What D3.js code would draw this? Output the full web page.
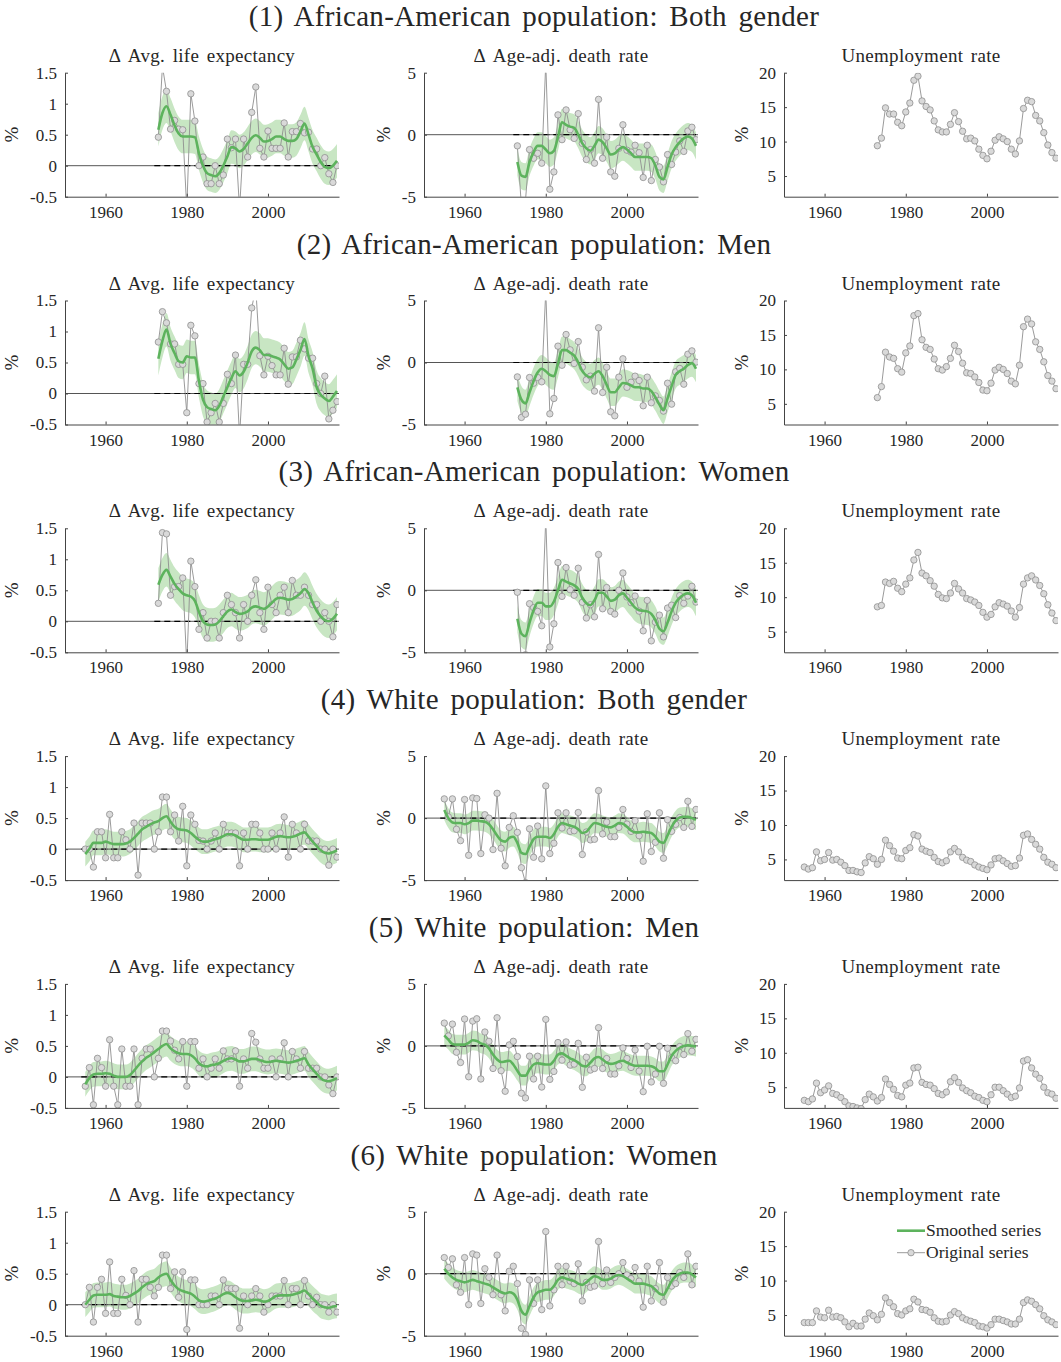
<!DOCTYPE html>
<html>
<head>
<meta charset="utf-8">
<script src="https://cdn.jsdelivr.net/npm/d3@7"></script>
<style>
  body { margin: 0; background: #fff; }
  svg { display: block; }
  text { font-family: "Liberation Serif", "DejaVu Serif", serif; fill: #262626; }
</style>
</head>
<body>
<div id="chart"></div>
<script>
// ---- data: first year of each group ----
const aaStart = 1973;
const whiteStart = 1955;

// (1) African-American, both genders
const aaBothLife = [0.46, 1.6, 1.2, 0.59, 0.73, 0.59, 0.58, -0.7, 1.16, 0.72,
  0.0, 0.14, -0.29, -0.29, 0.0, -0.29, -0.15, 0.43, 0.29, 0.43,
  -0.7, 0.43, 0.14, 0.86, 1.27, 0.28, 0.14, 0.56, 0.28, 0.28,
  0.28, 0.69, 0.14, 0.55, 0.55, 0.68, 0.53, 0.54, 0.27, 0.27,
  0.0, 0.13, -0.13, -0.27, 0.0];
const aaBothLifeSmooth = [0.58, 0.85, 0.96, 0.82, 0.65, 0.52, 0.47, 0.47, 0.47, 0.46,
  0.2, 0.0, -0.12, -0.15, -0.17, -0.12, 0.0, 0.15, 0.3, 0.28,
  0.23, 0.27, 0.36, 0.45, 0.49, 0.45, 0.39, 0.4, 0.43, 0.47,
  0.47, 0.43, 0.4, 0.4, 0.43, 0.55, 0.68, 0.5, 0.3, 0.18,
  0.06, -0.02, -0.04, 0.0, 0.08];
const aaBothDeath = [-0.9, -5.8, -5.3, -1.2, -1.9, -1.5, -2.3, 5.8, -4.4, -3.0,
  1.6, -0.4, 2.0, 0.4, -0.3, 1.7, -0.7, -2.0, -1.2, -2.3,
  2.85, -1.9, -0.2, -3.0, -3.35, -1.1, 0.8, -1.25, -1.4, -0.85,
  -1.45, -3.45, -0.85, -3.7, -2.0, -2.6, -3.8, -1.6, -2.4, -1.4,
  -0.5, -1.35, 0.3, 0.6, -0.4];
const aaBothDeathSmooth = [-2.2, -3.3, -3.4, -2.2, -1.4, -0.9, -0.9, -1.2, -1.5, -1.3,
  -0.2, 1.0, 0.8, 0.65, 0.55, 0.0, -0.7, -1.1, -1.3, -0.9,
  -0.4, -0.6, -1.1, -1.6, -1.5, -1.2, -1.0, -1.2, -1.5, -1.8,
  -1.8, -1.8, -1.8, -1.9, -2.5, -3.4, -3.6, -2.6, -1.6, -1.0,
  -0.6, -0.3, -0.15, -0.3, -0.9];
const aaBothUnemp = [9.4, 10.5, 14.9, 14.0, 14.0, 12.8, 12.3, 14.3, 15.6, 18.9,
  19.5, 15.9, 15.1, 14.6, 13.0, 11.7, 11.4, 11.4, 12.5, 14.2,
  12.9, 11.5, 10.4, 10.5, 10.1, 8.9, 8.0, 7.5, 8.6, 10.2,
  10.7, 10.4, 10.0, 8.9, 8.2, 10.1, 14.8, 16.0, 15.8, 13.8,
  13.0, 11.3, 9.5, 8.4, 7.6];

// (2) African-American, men
const aaMenLife = [0.83, 1.32, 1.14, 0.8, 0.8, 0.47, 0.47, -0.31, 1.1, 0.93,
  0.16, 0.16, -0.46, -0.31, -0.16, -0.46, -0.16, 0.31, 0.16, 0.62,
  -0.7, 0.47, 0.47, 1.38, 1.7, 0.61, 0.3, 0.6, 0.45, 0.3,
  0.3, 0.73, 0.15, 0.59, 0.59, 0.86, 0.72, 0.57, 0.57, 0.16,
  0.0, 0.28, -0.41, -0.27, -0.13];
const aaMenLifeSmooth = [0.56, 0.85, 1.03, 0.8, 0.65, 0.52, 0.5, 0.6, 0.58, 0.58,
  0.2, -0.1, -0.22, -0.25, -0.27, -0.2, -0.05, 0.1, 0.25, 0.36,
  0.29, 0.35, 0.5, 0.68, 0.74, 0.7, 0.62, 0.62, 0.6, 0.58,
  0.55, 0.47, 0.4, 0.42, 0.55, 0.7, 0.88, 0.6, 0.4, 0.1,
  -0.02, -0.08, -0.12, -0.05, 0.04];
const aaMenDeath = [-1.16, -4.43, -4.17, -1.21, -1.67, -1.21, -1.56, 5.8, -4.14, -2.9,
  1.32, -0.22, 2.26, 1.02, -0.08, 1.69, -0.38, -1.4, -1.1, -2.31,
  2.8, -2.42, -0.38, -3.98, -4.3, -1.18, 0.3, -2.0, -1.59, -1.1,
  -1.45, -3.49, -1.18, -3.25, -2.69, -3.06, -3.92, -1.67, -3.36, -0.75,
  -0.48, -1.75, 0.67, 0.94, 0.03];
const aaMenDeathSmooth = [-2.0, -3.0, -3.3, -2.4, -1.5, -0.8, -0.5, -0.7, -1.0, -1.1,
  -0.1, 1.0, 1.0, 0.8, 0.55, 0.0, -0.7, -1.05, -1.2, -0.9,
  -0.7, -1.1, -1.8, -2.4, -2.4, -2.0, -1.65, -1.7, -1.85, -2.0,
  -2.0, -2.1, -2.1, -2.3, -2.8, -3.4, -3.85, -2.9, -1.9, -1.0,
  -0.7, -0.5, -0.2, -0.05, -0.5];
const aaMenUnemp = [5.9, 7.5, 12.5, 11.8, 11.6, 10.1, 9.6, 12.4, 13.4, 17.8,
  18.1, 14.3, 13.2, 12.9, 11.5, 10.1, 9.9, 10.4, 11.6, 13.5,
  12.6, 10.9, 9.5, 9.4, 8.9, 8.1, 7.0, 6.9, 8.0, 9.9,
  10.3, 10.0, 9.4, 8.3, 7.9, 10.6, 16.2, 17.3, 16.6, 14.0,
  12.9, 11.1, 9.1, 8.3, 7.2];

// (3) African-American, women
const aaWomenLife = [0.29, 1.43, 1.41, 0.42, 0.56, 0.56, 0.70, -0.7, 0.97, 0.56,
  -0.13, 0.14, -0.27, 0.0, 0.0, -0.27, 0.14, 0.42, 0.27, 0.14,
  -0.27, 0.27, 0.0, 0.42, 0.67, 0.14, -0.13, 0.55, 0.27, 0.14,
  0.42, 0.55, 0.14, 0.66, 0.42, 0.42, 0.55, 0.42, 0.27, 0.27,
  0.0, 0.14, 0.0, -0.25, 0.27];
const aaWomenLifeSmooth = [0.59, 0.75, 0.83, 0.72, 0.6, 0.52, 0.45, 0.42, 0.4, 0.33,
  0.15, 0.0, -0.05, -0.06, -0.05, 0.0, 0.08, 0.16, 0.19, 0.15,
  0.12, 0.13, 0.16, 0.22, 0.24, 0.22, 0.2, 0.24, 0.3, 0.36,
  0.38, 0.37, 0.35, 0.36, 0.4, 0.45, 0.52, 0.45, 0.3, 0.17,
  0.08, 0.02, 0.0, 0.04, 0.12];
const aaWomenDeath = [-0.16, -6.0, -5.2, -1.08, -1.4, -1.7, -2.86, 5.8, -4.57, -2.7,
  2.24, -0.49, 1.84, 0.05, -0.4, 1.78, -0.97, -2.24, -1.16, -2.14,
  2.89, -1.49, 0.22, -1.7, -1.92, 0.0, 1.4, -0.54, -1.0, -0.46,
  -1.68, -3.27, -0.81, -4.08, -2.57, -2.0, -3.76, -1.43, -1.2, -2.2,
  -0.43, -1.05, -0.46, 0.32, -0.95];
const aaWomenDeathSmooth = [-2.3, -3.5, -3.7, -2.6, -1.6, -1.0, -1.0, -1.3, -1.3, -0.9,
  0.0, 0.85, 0.7, 0.55, 0.4, 0.1, -0.6, -1.05, -1.2, -0.8,
  -0.2, -0.2, -0.5, -0.85, -0.75, -0.4, -0.25, -0.6, -1.0, -1.4,
  -1.6, -1.65, -1.7, -1.9, -2.4, -3.1, -3.3, -2.6, -1.7, -1.0,
  -0.6, -0.35, -0.25, -0.4, -1.0];
const aaWomenUnemp = [8.6, 8.8, 12.2, 12.0, 12.3, 11.3, 10.8, 11.9, 12.8, 15.4,
  16.5, 13.5, 13.1, 12.4, 11.6, 10.4, 9.9, 9.8, 10.6, 12.0,
  11.2, 10.6, 9.8, 9.6, 9.3, 8.8, 7.8, 7.1, 7.5, 8.6,
  9.2, 9.0, 8.7, 8.0, 7.1, 8.5, 11.9, 12.8, 13.1, 12.5,
  11.7, 10.5, 8.9, 7.7, 6.6];

// (4) White, both genders
const wBothLife = [0.0, 0.0, -0.29, 0.28, 0.28, -0.14, 0.56, -0.14, -0.14, 0.28,
  0.15, 0.0, 0.42, -0.42, 0.42, 0.42, 0.42, 0.0, 0.28, 0.84,
  0.84, 0.28, 0.55, 0.13, 0.69, -0.27, 0.55, 0.4, 0.14, 0.13,
  0.0, 0.13, 0.26, 0.0, 0.4, 0.26, 0.26, 0.26, -0.27, 0.26,
  0.0, 0.4, 0.4, 0.26, 0.0, 0.0, 0.26, 0.0, 0.26, 0.52,
  -0.13, 0.4, 0.26, 0.0, 0.4, 0.13, 0.13, 0.13, 0.0, 0.0,
  -0.26, 0.0, -0.13];
const wBothLifeSmooth = [-0.08, 0.0, 0.1, 0.1, 0.1, 0.12, 0.1, 0.08, 0.08, 0.08,
  0.09, 0.12, 0.18, 0.25, 0.32, 0.36, 0.4, 0.43, 0.45, 0.5,
  0.53, 0.44, 0.36, 0.32, 0.31, 0.3, 0.26, 0.2, 0.15, 0.12,
  0.12, 0.14, 0.16, 0.18, 0.21, 0.24, 0.24, 0.22, 0.18, 0.15,
  0.15, 0.16, 0.16, 0.15, 0.15, 0.15, 0.17, 0.2, 0.21, 0.2,
  0.19, 0.2, 0.22, 0.25, 0.27, 0.2, 0.12, 0.05, -0.02, -0.06,
  -0.07, -0.05, -0.02];
const wBothDeath = [1.55, 0.1, 1.55, -0.9, -1.82, 1.5, -3.0, 1.63, 1.58, -2.86,
  0.27, 0.0, -2.54, 2.0, -2.43, -3.85, -0.75, 0.19, -1.15, -4.0,
  -5.2, -0.86, -3.16, -0.64, -3.29, 2.6, -2.86, -2.03, 0.43, -0.8,
  0.43, -1.07, -1.02, 0.45, -2.94, -1.12, -1.76, -1.71, 2.22, -1.28,
  -0.32, -1.5, -1.5, -0.75, 0.7, -0.48, -1.07, -0.21, -1.42, -3.48,
  0.35, -2.7, -1.95, 0.43, -3.24, -0.13, -1.07, -0.5, 0.05, -0.75,
  1.36, -0.67, 0.7];
const wBothDeathSmooth = [0.65, 0.0, -0.35, -0.4, -0.4, -0.5, -0.4, -0.2, -0.2, -0.25,
  -0.3, -0.5, -0.9, -1.4, -1.8, -1.9, -1.6, -1.5, -2.0, -2.8,
  -2.9, -2.3, -1.7, -1.5, -1.5, -1.5, -1.6, -1.3, -0.7, -0.4,
  -0.5, -0.6, -0.7, -0.9, -1.2, -1.1, -0.7, -0.4, -0.45, -0.6,
  -0.7, -0.75, -0.6, -0.4, -0.45, -0.7, -1.0, -1.15, -1.15, -1.1,
  -1.15, -1.2, -1.5, -1.9, -2.0, -1.4, -0.7, -0.2, 0.05, 0.1,
  0.1, 0.0, -0.15];
const wBothUnemp = [3.9, 3.6, 3.8, 6.1, 4.8, 5.0, 6.0, 4.9, 5.0, 4.6,
  4.1, 3.4, 3.4, 3.2, 3.1, 4.5, 5.4, 5.1, 4.3, 5.0,
  7.8, 7.0, 6.2, 5.2, 5.1, 6.3, 6.7, 8.6, 8.4, 6.5,
  6.2, 6.0, 5.3, 4.7, 4.5, 4.8, 6.1, 6.6, 6.1, 5.3,
  4.9, 4.7, 4.2, 3.9, 3.7, 3.5, 4.2, 5.1, 5.2, 4.8,
  4.4, 4.0, 4.1, 5.2, 8.5, 8.7, 7.9, 7.2, 6.5, 5.3,
  4.6, 4.3, 3.8];

// (5) White, men
const wMenLife = [-0.15, 0.15, -0.45, 0.3, 0.15, -0.15, 0.6, -0.15, -0.45, 0.45,
  -0.15, -0.15, 0.45, -0.45, 0.3, 0.45, 0.45, 0.0, 0.3, 0.74,
  0.74, 0.58, 0.43, 0.29, 0.57, -0.15, 0.57, 0.57, 0.14, 0.29,
  0.0, 0.14, 0.29, 0.14, 0.42, 0.29, 0.29, 0.42, -0.15, 0.29,
  0.14, 0.7, 0.56, 0.29, 0.14, 0.14, 0.29, 0.0, 0.29, 0.55,
  0.0, 0.41, 0.29, 0.14, 0.41, 0.14, 0.14, 0.14, 0.0, 0.0,
  -0.13, -0.27, 0.0];
const wMenLifeSmooth = [-0.12, -0.02, 0.04, 0.05, 0.05, 0.06, 0.05, 0.02, 0.0, 0.0,
  0.0, 0.03, 0.1, 0.18, 0.25, 0.31, 0.35, 0.4, 0.45, 0.5,
  0.53, 0.46, 0.41, 0.38, 0.37, 0.37, 0.35, 0.3, 0.22, 0.18,
  0.17, 0.19, 0.2, 0.22, 0.26, 0.29, 0.3, 0.28, 0.25, 0.25,
  0.27, 0.29, 0.29, 0.27, 0.25, 0.24, 0.25, 0.26, 0.25, 0.24,
  0.23, 0.24, 0.26, 0.28, 0.3, 0.2, 0.12, 0.05, -0.02, -0.06,
  -0.07, -0.05, -0.02];
const wMenDeath = [1.84, 0.8, 1.76, -0.51, -1.34, 2.17, -2.49, 2.0, 2.19, -2.67,
  1.12, 0.37, -1.82, 2.27, -2.0, -3.66, 0.08, 0.37, -0.86, -3.82,
  -4.2, -0.83, -2.67, -0.83, -3.32, 2.14, -2.7, -2.06, 0.27, -1.15,
  0.32, -1.55, -1.47, 0.21, -3.34, -0.91, -1.95, -1.82, 1.47, -1.82,
  -1.02, -2.27, -2.27, -1.6, -0.16, -1.02, -1.74, -0.32, -2.03, -3.69,
  -0.03, -2.91, -2.27, -0.03, -3.02, -0.19, -0.94, -1.2, -0.05, -0.7,
  0.99, -0.43, 0.53];
const wMenDeathSmooth = [0.85, 0.5, 0.15, 0.1, 0.1, 0.1, 0.25, 0.45, 0.4, 0.2,
  0.1, -0.2, -0.7, -1.1, -1.3, -1.25, -1.2, -1.5, -2.0, -2.4,
  -2.4, -1.9, -1.5, -1.4, -1.45, -1.5, -1.5, -1.2, -0.7, -0.6,
  -0.8, -1.0, -1.15, -1.35, -1.6, -1.65, -1.35, -1.0, -0.9, -1.1,
  -1.35, -1.45, -1.4, -1.25, -1.2, -1.35, -1.5, -1.6, -1.6, -1.6,
  -1.6, -1.65, -1.8, -2.05, -2.05, -1.5, -0.8, -0.4, -0.15, 0.0,
  0.05, 0.0, -0.05];
const wMenUnemp = [3.1, 2.9, 3.3, 5.6, 4.2, 4.6, 5.2, 4.1, 3.9, 3.5,
  2.9, 2.3, 2.2, 2.0, 1.9, 3.2, 4.0, 3.6, 3.0, 3.5,
  6.2, 5.4, 4.7, 3.8, 3.6, 5.3, 5.6, 7.8, 7.9, 5.7,
  5.4, 5.3, 4.8, 4.1, 3.9, 4.3, 5.8, 6.4, 5.7, 4.9,
  4.5, 4.2, 3.7, 3.5, 3.1, 2.9, 3.9, 5.0, 5.0, 4.5,
  4.0, 3.5, 3.7, 4.9, 8.8, 9.0, 7.8, 6.9, 6.3, 5.0,
  4.2, 4.0, 3.4];

// (6) White, women
const wWomenLife = [0.0, 0.28, -0.28, 0.28, 0.41, -0.14, 0.69, -0.14, -0.14, 0.41,
  0.15, 0.0, 0.55, -0.28, 0.41, 0.41, 0.28, 0.14, 0.28, 0.8,
  0.8, 0.26, 0.53, 0.12, 0.53, -0.4, 0.4, 0.4, 0.0, 0.0,
  0.0, 0.14, 0.14, 0.0, 0.4, 0.26, 0.26, 0.26, -0.38, 0.14,
  0.0, 0.14, 0.26, 0.14, -0.12, 0.0, 0.14, 0.14, 0.14, 0.39,
  0.0, 0.26, 0.26, 0.0, 0.39, 0.14, 0.0, 0.12, 0.0, 0.0,
  -0.12, 0.0, -0.12];
const wWomenLifeSmooth = [0.0, 0.08, 0.15, 0.16, 0.16, 0.16, 0.17, 0.14, 0.13, 0.12,
  0.12, 0.14, 0.18, 0.22, 0.28, 0.33, 0.36, 0.38, 0.44, 0.48,
  0.5, 0.4, 0.31, 0.25, 0.22, 0.2, 0.18, 0.13, 0.07, 0.05,
  0.06, 0.08, 0.1, 0.13, 0.17, 0.19, 0.17, 0.12, 0.08, 0.06,
  0.06, 0.07, 0.08, 0.07, 0.05, 0.06, 0.1, 0.14, 0.15, 0.15,
  0.15, 0.16, 0.18, 0.2, 0.23, 0.17, 0.1, 0.04, -0.02, -0.04,
  -0.05, -0.03, -0.02];
const wWomenDeath = [1.3, 0.5, 1.2, -0.9, -1.5, 1.3, -2.5, 1.6, 1.5, -2.4,
  0.4, -0.3, -1.7, 1.5, -1.7, -3.0, 0.2, 0.6, -0.8, -4.4,
  -4.9, -0.5, -2.4, -0.5, -2.9, 3.4, -2.6, -1.3, 0.6, -0.9,
  0.6, -0.6, -0.8, 0.8, -2.2, -0.7, -1.1, -1.0, 2.6, -0.8,
  0.3, -0.7, -0.3, 0.0, 0.9, -0.1, -0.4, 0.5, -0.6, -2.7,
  0.6, -2.2, -1.2, 0.9, -2.3, -0.3, -1.0, -0.8, 0.1, -0.3,
  1.6, -0.9, 0.6];
const wWomenDeathSmooth = [0.4, 0.0, -0.3, -0.5, -0.6, -0.7, -0.6, -0.5, -0.6, -0.7,
  -0.8, -0.9, -1.1, -1.3, -1.5, -1.6, -1.5, -1.6, -2.1, -3.0,
  -3.3, -2.6, -1.9, -1.5, -1.4, -1.3, -1.3, -1.0, -0.5, -0.3,
  -0.4, -0.5, -0.6, -0.8, -0.9, -0.7, -0.4, -0.2, -0.3, -0.5,
  -0.5, -0.4, -0.2, -0.1, -0.2, -0.4, -0.6, -0.8, -0.8, -0.8,
  -0.9, -1.0, -1.3, -1.6, -1.7, -1.2, -0.6, -0.2, 0.0, 0.1,
  0.1, -0.05, -0.3];
const wWomenUnemp = [3.9, 3.9, 3.9, 5.6, 4.7, 4.6, 5.7, 4.7, 4.8, 4.6,
  4.0, 3.3, 3.8, 3.4, 3.4, 4.4, 5.3, 4.9, 4.3, 5.1,
  7.5, 6.8, 6.2, 5.2, 5.0, 5.6, 5.9, 7.3, 6.9, 5.8,
  5.7, 5.4, 4.6, 4.1, 4.0, 4.1, 5.0, 5.5, 5.2, 4.6,
  4.3, 4.1, 3.9, 3.4, 3.3, 3.1, 3.6, 4.4, 4.4, 4.2,
  4.0, 3.7, 3.7, 4.4, 6.8, 7.2, 7.0, 6.5, 5.9, 4.9,
  4.3, 4.0, 3.6];

// confidence band half-width of the smoothed series, one per row
const lifeBandHalf = [0.27, 0.27, 0.27, 0.2, 0.2, 0.2];
const deathBandHalf = [1.1, 1.1, 1.1, 0.8, 0.8, 0.8];

const rowTitles = [
  "(1) African-American population: Both gender",
  "(2) African-American population: Men",
  "(3) African-American population: Women",
  "(4) White population: Both gender",
  "(5) White population: Men",
  "(6) White population: Women"
];
const panelTitles = ["\u0394 Avg. life expectancy", "\u0394 Age-adj. death rate", "Unemployment rate"];
const xTicks = [1960, 1980, 2000];
const lifeTicks = [-0.5, 0, 0.5, 1, 1.5];
const deathTicks = [-5, 0, 5];
const unempTicks = [5, 10, 15, 20];
const legendLabels = ["Smoothed series", "Original series"];

// rows assembled from the arrays above
const rows = [
  { start: aaStart, life: aaBothLife, lifeS: aaBothLifeSmooth, death: aaBothDeath, deathS: aaBothDeathSmooth, unemp: aaBothUnemp },
  { start: aaStart, life: aaMenLife, lifeS: aaMenLifeSmooth, death: aaMenDeath, deathS: aaMenDeathSmooth, unemp: aaMenUnemp },
  { start: aaStart, life: aaWomenLife, lifeS: aaWomenLifeSmooth, death: aaWomenDeath, deathS: aaWomenDeathSmooth, unemp: aaWomenUnemp },
  { start: whiteStart, life: wBothLife, lifeS: wBothLifeSmooth, death: wBothDeath, deathS: wBothDeathSmooth, unemp: wBothUnemp },
  { start: whiteStart, life: wMenLife, lifeS: wMenLifeSmooth, death: wMenDeath, deathS: wMenDeathSmooth, unemp: wMenUnemp },
  { start: whiteStart, life: wWomenLife, lifeS: wWomenLifeSmooth, death: wWomenDeath, deathS: wWomenDeathSmooth, unemp: wWomenUnemp }
];

// ---- layout ----
const width = 1061, height = 1362;
const panelLeft = [65, 424, 784];
const ylabelOffset = [-47, -34, -36];
const panelW = 274, panelH = 124;
const firstTop = 72.7, rowStep = 227.8;
const green = "#5db35d", band = "#c8e6c3";
const grey = "#8f8f8f", dotFill = "#d9d9d9";

const svg = d3.select("#chart").append("svg")
  .attr("width", width).attr("height", height);

const x = d3.scaleLinear().domain([1950, 2017.5]).range([0, panelW]);

const drawPanel = (g, id, years, orig, smooth, half, domain, ticks, zero, title, ylabX) => {
  const y = d3.scaleLinear().domain(domain).range([panelH, 0]);

  g.append("clipPath").attr("id", id)
    .append("rect").attr("width", panelW).attr("height", panelH);
  const plot = g.append("g").attr("clip-path", `url(#${id})`);

  if (smooth) {
    const pts = years.map((yr, i) => ({ yr, v: smooth[i] }));
    plot.append("path")
      .datum(pts)
      .attr("fill", band)
      .attr("d", d3.area()
        .x((d) => x(d.yr))
        .y0((d) => y(d.v - half))
        .y1((d) => y(d.v + half))
        .curve(d3.curveMonotoneX));
  }

  if (zero) {
    plot.append("line")
      .attr("x1", 0).attr("x2", panelW)
      .attr("y1", y(0)).attr("y2", y(0))
      .attr("stroke", "#555").attr("stroke-width", 1);
    plot.append("line")
      .attr("x1", x(years[0] - 1)).attr("x2", x(years[years.length - 1]))
      .attr("y1", y(0)).attr("y2", y(0))
      .attr("stroke", "#000").attr("stroke-width", 1.2)
      .attr("stroke-dasharray", "6,4");
  }

  const origPts = years.map((yr, i) => ({ yr, v: orig[i] }));
  plot.append("path")
    .datum(origPts)
    .attr("fill", "none")
    .attr("stroke", grey)
    .attr("stroke-width", 0.9)
    .attr("d", d3.line().x((d) => x(d.yr)).y((d) => y(d.v)));

  plot.append("g")
    .selectAll("circle")
    .data(origPts)
    .join("circle")
    .attr("cx", (d) => x(d.yr))
    .attr("cy", (d) => y(d.v))
    .attr("r", 3.2)
    .attr("fill", dotFill)
    .attr("stroke", grey)
    .attr("stroke-width", 0.8);

  if (smooth) {
    plot.append("path")
      .datum(years.map((yr, i) => ({ yr, v: smooth[i] })))
      .attr("fill", "none")
      .attr("stroke", green)
      .attr("stroke-width", 2.6)
      .attr("d", d3.line().x((d) => x(d.yr)).y((d) => y(d.v)).curve(d3.curveMonotoneX));
  }

  // axes, MATLAB style: ticks pointing inwards, no box
  g.append("g")
    .call(d3.axisLeft(y).tickValues(ticks).tickFormat((d) => String(d))
      .tickSizeInner(-3).tickSizeOuter(0).tickPadding(8))
    .call((a) => a.select(".domain").attr("stroke", "#444"))
    .call((a) => a.selectAll(".tick line").attr("stroke", "#444"))
    .call((a) => a.selectAll("text").attr("font-size", 17).attr("fill", "#262626")
      .attr("font-family", '"Liberation Serif", serif'));

  g.append("g")
    .attr("transform", `translate(0,${panelH})`)
    .call(d3.axisBottom(x).tickValues(xTicks).tickFormat((d) => String(d))
      .tickSizeInner(-3).tickSizeOuter(0).tickPadding(9))
    .call((a) => a.select(".domain").attr("stroke", "#444"))
    .call((a) => a.selectAll(".tick line").attr("stroke", "#444"))
    .call((a) => a.selectAll("text").attr("font-size", 17).attr("fill", "#262626")
      .attr("font-family", '"Liberation Serif", serif'));

  g.append("text")
    .attr("x", panelW / 2).attr("y", -11)
    .attr("text-anchor", "middle")
    .attr("font-size", 19)
    .attr("word-spacing", 2.5)
    .attr("letter-spacing", 0.3)
    .text(title);

  g.append("text")
    .attr("transform", `translate(${ylabX},${panelH / 2}) rotate(-90)`)
    .attr("text-anchor", "middle")
    .attr("font-size", 19)
    .text("%");
};

rows.forEach((row, r) => {
  const top = firstTop + r * rowStep;
  const years = row.life.map((_, i) => row.start + i);

  svg.append("text")
    .attr("x", 534).attr("y", top - 47)
    .attr("text-anchor", "middle")
    .attr("font-size", 29)
    .attr("word-spacing", 4)
    .attr("letter-spacing", 0.3)
    .text(rowTitles[r]);

  const g0 = svg.append("g").attr("transform", `translate(${panelLeft[0]},${top})`);
  drawPanel(g0, `c${r}a`, years, row.life, row.lifeS, lifeBandHalf[r], [-0.5, 1.5], lifeTicks, true, panelTitles[0], ylabelOffset[0]);

  const g1 = svg.append("g").attr("transform", `translate(${panelLeft[1]},${top})`);
  drawPanel(g1, `c${r}b`, years, row.death, row.deathS, deathBandHalf[r], [-5, 5], deathTicks, true, panelTitles[1], ylabelOffset[1]);

  const g2 = svg.append("g").attr("transform", `translate(${panelLeft[2]},${top})`);
  drawPanel(g2, `c${r}c`, years, row.unemp, null, 0, [2, 20], unempTicks, false, panelTitles[2], ylabelOffset[2]);
});

// legend in the last unemployment panel
const lastTop = firstTop + 5 * rowStep;
const legend = svg.append("g").attr("transform", `translate(${panelLeft[2] + 113},${lastTop + 19})`);
legend.append("line").attr("x1", 0).attr("x2", 28).attr("y1", 0).attr("y2", 0)
  .attr("stroke", green).attr("stroke-width", 2.6);
legend.append("text").attr("x", 29).attr("y", 5.5).attr("font-size", 17.5).text(legendLabels[0]);
legend.append("line").attr("x1", 0).attr("x2", 28).attr("y1", 22).attr("y2", 22)
  .attr("stroke", grey).attr("stroke-width", 0.9);
legend.append("circle").attr("cx", 14).attr("cy", 22).attr("r", 3.2)
  .attr("fill", dotFill).attr("stroke", grey).attr("stroke-width", 0.8);
legend.append("text").attr("x", 29).attr("y", 27.5).attr("font-size", 17.5).text(legendLabels[1]);
</script>
</body>
</html>
